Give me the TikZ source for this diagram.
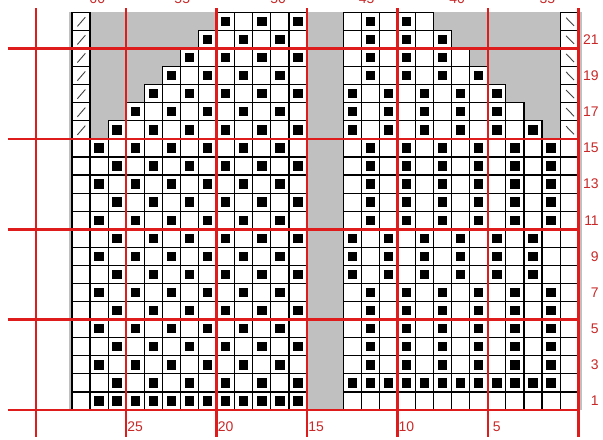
\documentclass[tikz,border=0pt]{standalone}
\usepackage{fontspec}
\setmainfont{Liberation Sans}
\definecolor{nost}{RGB}{192,192,192}
\definecolor{gridred}{RGB}{222,28,28}
\definecolor{numred}{RGB}{200,40,40}

\begin{document}
\begin{tikzpicture}[
    x=0.5cm, y=0.5cm,
    st/.style  ={draw=black, line width=0.9pt, fill=white},
    pu/.style  ={fill=black},
    dec/.style ={draw=black!75, line width=0.7pt},
    rl/.style  ={draw=gridred, line width=2pt},
    num/.style ={text=numred, font=\fontsize{11}{11}\selectfont, inner sep=0pt},
  ]
  \useasboundingbox (-3.98,-1.6) rectangle (29.37,22.68);
  \clip (-3.98,-1.6) rectangle (29.37,22.68);

  % --- no stitch ---
  \fill[nost] (-0.17,0) rectangle (28.2,22);

  % --- stitches ---
  \foreach \r in {1,...,22}{
    \pgfmathtruncatemacro{\lo}{\r>15 ? \r-14 : 1}
    \pgfmathtruncatemacro{\hi}{\r>15 ? 41-\r : 26}
    \pgfmathtruncatemacro{\ph}{((\r>7) && (\r<11)) || ((\r>15) && (\r<19)) ? 1 : 0}
    \draw[st] (0,\r-1) rectangle ++(1,1);
    \draw[st] (27,\r-1) rectangle ++(1,1);
    % left panel
    \foreach \c in {\lo,...,12}{
      \draw[st] (\c,\r-1) rectangle ++(1,1);
      \pgfmathtruncatemacro{\on}{(\r==1) || (mod(\c+\r,2)==0)}
      \ifnum\on=1 \fill[pu] (\c+0.24,\r-0.76) rectangle ++(0.52,0.52); \fi
    }
    % right panel
    \foreach \c in {15,...,\hi}{
      \draw[st] (\c,\r-1) rectangle ++(1,1);
      \pgfmathtruncatemacro{\on}{(\r==2) || ((\r>2) && (mod(\c,2)==\ph))}
      \ifnum\on=1 \fill[pu] (\c+0.24,\r-0.76) rectangle ++(0.52,0.52); \fi
    }
  }

  % --- decreases ---
  \foreach \r in {16,...,22}{
    \draw[dec] (0.3,\r-0.78) -- (0.74,\r-0.27);
    \draw[dec] (27.33,\r-0.3) -- (27.77,\r-0.75);
  }

  % --- red grid ---
  \foreach \x in {-2,3,...,28} \draw[rl] (\x,22.23) -- (\x,-1.49);
  \foreach \y in {0,5,...,20} \draw[rl] (-3.55,\y) -- (28,\y);

  % --- numbers ---
  \foreach \r in {1,3,...,21}
    \node[num, anchor=east] (row\r) at (29.15,\r-0.5) {\r};
  \foreach \n in {25,20,...,5}
    \node[num] (col\n) at (28.5-\n,-0.94) {\n};
  \foreach \n/\x in {60/1.4,55/6.1,50/11.4,45/16.3,40/21.3,35/26.3}
    \node[num, anchor=base] (top\n) at (\x,22.51) {\n};
\end{tikzpicture}
\end{document}
